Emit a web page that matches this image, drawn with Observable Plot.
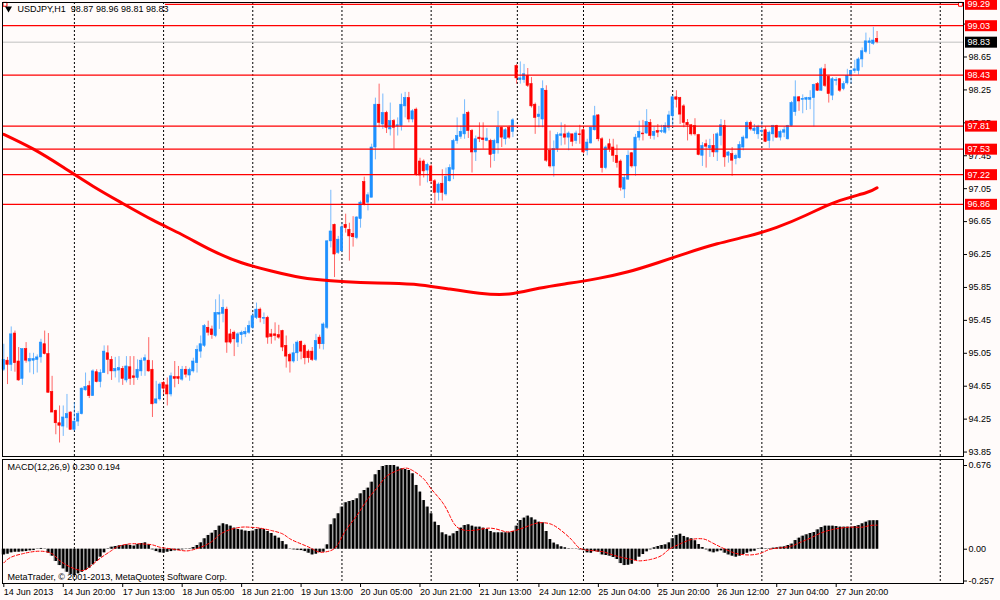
<!DOCTYPE html>
<html><head><meta charset="utf-8">
<script src="https://cdn.jsdelivr.net/npm/d3@7"></script>
<script src="https://cdn.jsdelivr.net/npm/@observablehq/plot@0.6"></script>
<style>
html,body{margin:0;padding:0;background:#FFFBFA;overflow:hidden;}
#chart svg{display:block;}
</style></head><body><div id="chart"></div>
<script>
// ---- USDJPY H1 candles (bar index 0..235) ----
const opens = [94.85,94.96,94.91,95.29,94.95,94.74,95.10,94.95,94.96,94.97,95.00,95.16,95.04,94.58,94.35,94.20,94.16,94.26,94.33,94.12,94.22,94.31,94.60,94.65,94.53,94.82,94.70,94.81,95.05,94.97,94.83,94.84,94.86,94.72,94.88,94.77,94.75,94.83,94.96,94.96,94.85,94.44,94.49,94.69,94.66,94.55,94.76,94.76,94.73,94.85,94.78,94.83,94.93,95.07,95.14,95.36,95.34,95.26,95.52,95.53,95.58,95.28,95.30,95.18,95.27,95.28,95.30,95.36,95.48,95.58,95.47,95.48,95.28,95.28,95.27,95.32,95.14,95.03,94.95,95.05,95.19,95.14,95.07,95.07,94.97,95.24,95.16,95.36,96.41,96.61,96.27,96.29,96.61,96.55,96.50,96.45,96.68,97.13,96.88,96.94,97.55,98.07,97.83,97.97,97.77,97.87,97.81,97.81,98.05,98.15,97.89,98.01,97.38,97.38,97.27,97.32,97.14,97.00,97.11,96.98,97.14,97.28,97.63,97.68,97.71,97.97,97.75,97.49,97.67,97.66,97.63,97.63,97.47,97.60,97.79,97.65,97.79,97.74,98.54,98.37,98.37,98.42,98.32,98.07,97.92,97.89,98.24,97.51,97.32,97.53,97.69,97.71,97.67,97.71,97.63,97.71,97.76,97.51,97.60,97.76,97.94,97.65,97.30,97.59,97.55,97.45,97.38,97.04,97.16,97.48,97.32,97.67,97.72,97.72,97.85,97.69,97.75,97.74,97.73,97.79,97.93,98.16,98.15,98.05,97.85,97.82,97.81,97.70,97.45,97.59,97.54,97.57,97.49,97.69,97.81,97.45,97.47,97.41,97.42,97.55,97.66,97.85,97.75,97.71,97.74,97.76,97.63,97.71,97.81,97.67,97.73,97.65,97.81,97.98,98.16,98.13,98.13,98.13,98.15,98.32,98.24,98.50,98.41,98.18,98.36,98.38,98.26,98.33,98.42,98.48,98.48,98.62,98.71,98.82,98.81,98.87];
const highs = [95.16,95.00,95.37,95.32,95.12,95.10,95.18,95.05,95.05,95.03,95.22,95.32,95.29,94.77,94.36,94.41,94.41,94.55,94.34,94.45,94.34,94.63,94.81,94.71,94.85,94.85,94.85,95.14,95.14,95.01,95.00,95.01,94.89,95.01,95.01,95.01,94.97,94.99,95.03,95.24,94.96,94.71,94.69,94.71,94.75,94.81,94.95,94.89,94.89,94.89,94.87,94.99,95.14,95.26,95.40,95.44,95.38,95.70,95.76,95.70,95.61,95.34,95.32,95.30,95.32,95.36,95.44,95.54,95.66,95.60,95.54,95.50,95.34,95.42,95.39,95.33,95.26,95.05,95.16,95.20,95.20,95.16,95.09,95.12,95.28,95.27,95.42,96.42,97.03,96.62,96.47,96.63,96.74,96.63,96.71,96.71,96.90,97.19,97.00,97.59,98.15,98.32,98.20,97.99,98.09,97.89,97.91,98.20,98.22,98.22,98.01,98.03,97.42,97.40,97.36,97.34,97.16,97.12,97.28,97.30,97.34,97.65,97.91,97.81,98.13,97.99,97.77,97.69,97.85,97.85,97.78,97.65,97.65,97.99,97.80,97.78,97.81,97.90,98.56,98.59,98.56,98.51,98.40,98.09,98.05,98.36,98.30,97.75,97.63,97.73,97.85,97.83,97.74,97.71,97.75,97.82,97.79,97.65,97.80,98.05,97.95,97.67,97.57,97.65,97.65,97.58,97.40,97.22,97.51,97.49,97.71,97.87,97.88,98.01,97.89,97.80,97.83,97.82,97.85,97.99,98.18,98.24,98.16,98.07,97.89,97.83,97.90,97.71,97.61,97.64,97.65,97.71,97.73,97.89,97.88,97.50,97.55,97.47,97.62,97.69,97.87,97.87,97.83,97.82,97.87,97.80,97.75,97.82,97.82,97.76,97.80,97.82,98.11,98.36,98.17,98.19,98.16,98.24,98.32,98.34,98.52,98.56,98.42,98.40,98.40,98.39,98.35,98.50,98.49,98.61,98.64,98.76,98.94,98.88,99.01,98.96];
const lows = [94.83,94.67,94.83,94.82,94.71,94.66,94.93,94.81,94.79,94.81,94.93,95.03,94.57,94.33,94.06,93.96,94.04,94.14,94.12,94.10,94.16,94.30,94.59,94.50,94.53,94.69,94.63,94.81,94.79,94.72,94.75,94.69,94.66,94.69,94.66,94.66,94.72,94.77,94.77,94.82,94.27,94.43,94.47,94.55,94.41,94.52,94.63,94.67,94.71,94.75,94.71,94.81,94.81,94.99,95.12,95.26,95.22,95.24,95.34,95.42,95.05,95.16,95.01,95.12,95.16,95.24,95.28,95.34,95.46,95.42,95.40,95.16,95.16,95.20,95.22,95.07,94.87,94.81,94.93,94.95,94.97,94.91,94.93,94.95,94.95,95.10,95.09,95.34,96.33,95.97,96.25,96.27,96.51,96.17,96.34,96.43,96.57,96.84,96.78,96.94,97.40,97.79,97.77,97.72,97.69,97.53,97.69,97.75,97.91,97.85,97.85,97.20,97.08,97.18,97.12,97.10,96.86,96.90,96.90,96.96,97.13,97.16,97.59,97.65,97.65,97.66,97.24,97.38,97.61,97.53,97.62,97.30,97.38,97.47,97.55,97.58,97.65,97.67,98.32,98.32,98.33,98.28,98.03,97.71,97.79,97.79,97.37,97.30,97.19,97.49,97.57,97.58,97.51,97.56,97.59,97.59,97.47,97.45,97.59,97.75,97.62,97.24,97.28,97.49,97.37,97.30,97.02,96.93,97.15,97.30,97.20,97.63,97.63,97.71,97.65,97.64,97.67,97.72,97.71,97.75,97.79,98.03,97.83,97.79,97.63,97.69,97.69,97.45,97.32,97.30,97.43,97.43,97.38,97.57,97.31,97.36,97.20,97.34,97.41,97.51,97.65,97.75,97.71,97.65,97.71,97.61,97.54,97.62,97.66,97.63,97.67,97.64,97.80,97.93,97.99,97.96,98.00,98.01,97.80,98.23,98.23,98.28,98.09,98.12,98.30,98.22,98.24,98.31,98.32,98.45,98.43,98.52,98.69,98.68,98.79,98.81];
const closes = [94.97,94.91,95.28,94.93,94.72,95.10,94.96,94.98,94.98,95.00,95.18,95.04,94.57,94.33,94.20,94.17,94.27,94.31,94.12,94.22,94.31,94.62,94.64,94.53,94.83,94.70,94.81,95.07,94.97,94.83,94.86,94.87,94.74,94.89,94.74,94.75,94.85,94.96,94.99,94.83,94.43,94.49,94.67,94.62,94.55,94.77,94.74,94.74,94.85,94.79,94.85,94.95,95.09,95.16,95.38,95.30,95.27,95.54,95.54,95.60,95.18,95.18,95.22,95.28,95.30,95.31,95.38,95.50,95.58,95.48,95.48,95.24,95.25,95.26,95.24,95.12,95.01,94.95,95.05,95.18,95.07,94.99,94.99,94.97,95.20,95.16,95.40,96.41,96.53,96.25,96.43,96.58,96.57,96.47,96.46,96.70,96.88,96.85,96.97,97.55,98.07,97.85,97.97,97.79,97.87,97.79,97.82,98.07,98.15,97.89,97.99,97.22,97.21,97.26,97.34,97.14,97.00,97.10,97.00,97.19,97.30,97.63,97.69,97.74,97.95,97.75,97.49,97.65,97.65,97.64,97.66,97.46,97.63,97.79,97.67,97.76,97.67,97.88,98.39,98.39,98.44,98.30,98.05,97.91,97.95,98.26,97.39,97.32,97.53,97.70,97.71,97.67,97.72,97.62,97.72,97.70,97.49,97.61,97.79,97.93,97.65,97.30,97.55,97.53,97.45,97.36,97.06,97.18,97.45,97.32,97.67,97.74,97.71,97.86,97.69,97.74,97.73,97.75,97.81,97.94,98.16,98.13,97.95,97.85,97.82,97.71,97.71,97.46,97.57,97.56,97.57,97.49,97.71,97.82,97.43,97.49,97.39,97.45,97.58,97.67,97.85,97.77,97.78,97.80,97.75,97.62,97.73,97.81,97.67,97.74,97.76,97.81,98.09,98.16,98.11,98.14,98.15,98.15,98.31,98.24,98.50,98.30,98.20,98.38,98.37,98.24,98.32,98.42,98.48,98.50,98.62,98.72,98.84,98.84,98.85,98.83];

// ---- 200-period moving average, read at selected bars ----
const maBars = [0,8,16,24,32,40,48,56,64,72,80,88,96,104,112,120,128,136,144,152,160,168,176,184,192,200,208,216,224,232,235];
const maVals = [97.71,97.53,97.31,97.08,96.87,96.67,96.49,96.30,96.15,96.05,95.97,95.93,95.91,95.90,95.88,95.83,95.78,95.77,95.84,95.90,95.96,96.04,96.15,96.27,96.38,96.47,96.58,96.73,96.89,97.00,97.06];

// ---- MACD(12,26,9) main values per bar ----
const macdVals = [-0.046,-0.040,-0.029,-0.024,-0.024,-0.021,-0.019,-0.013,-0.011,-0.002,0.006,-0.002,
-0.032,-0.056,-0.099,-0.132,-0.159,-0.186,-0.204,-0.212,-0.199,-0.186,-0.172,-0.153,-0.126,-0.099,-0.064,-0.029,
0.003,0.016,0.022,0.027,0.030,0.035,0.030,0.025,0.038,0.046,0.051,0.035,
-0.005,-0.019,-0.029,-0.032,-0.024,-0.019,-0.013,-0.011,-0.005,-0.002,0.003,
0.014,0.030,0.051,0.084,0.111,0.129,0.151,0.186,0.205,0.197,0.186,0.170,0.159,0.154,0.146,0.143,
0.146,0.159,0.164,0.159,0.143,0.127,0.105,0.089,0.062,0.035,-0.002,-0.005,-0.008,-0.011,-0.019,-0.032,-0.046,-0.040,-0.027,-0.024,
0.035,0.197,0.245,0.286,0.340,0.375,0.385,0.393,0.407,0.447,0.474,0.493,0.541,0.601,0.636,0.668,0.676,0.676,0.676,0.663,0.649,0.644,0.636,0.609,
0.515,0.461,0.393,0.340,0.286,0.218,0.191,0.132,0.116,0.105,0.124,0.143,0.170,0.191,0.197,0.186,0.178,0.178,0.170,0.159,0.143,0.132,0.132,
0.132,0.132,0.132,0.143,0.186,0.232,0.251,0.267,0.253,0.235,0.218,0.213,0.143,0.078,0.049,0.035,0.019,0.011,0.003,-0.002,-0.002,-0.005,-0.011,-0.029,-0.032,-0.019,-0.024,-0.046,-0.051,-0.056,-0.067,-0.083,-0.116,-0.132,-0.129,-0.121,-0.091,-0.064,-0.043,-0.021,-0.005,0.011,0.022,0.030,0.035,0.051,0.084,0.111,0.121,
0.103,0.092,0.084,0.068,0.038,0.014,-0.005,-0.021,-0.029,-0.021,-0.013,-0.032,-0.046,-0.056,-0.064,-0.056,-0.043,-0.032,-0.021,-0.016,0.003,0.008,0.003,0.003,0.008,0.011,0.016,0.019,0.030,0.041,0.070,0.089,0.105,0.116,0.127,0.135,0.156,0.175,0.186,0.186,0.186,0.183,0.178,0.178,0.178,0.178,0.183,0.191,0.205,0.218,0.229,0.230,0.230];

// ---- MACD signal line, read at selected bars ----
const sigBars = [0,2,5,7,10,13,15,18,21,23,26,29,31,34,37,40,42,45,48,50,53,56,58,61,64,66,69,72,75,77,80,83,85,88,90,92,95,98,101,103,106,108,110,113,115,118,120,122,125,128,131,134,136,139,142,144,147,150,153,155,158,161,163,166,169,171,174,177,179,182,185,188,190,193,196,198,201,204,206,209,212,214,217,220,223,225,228,231,233,235];
const sigVals = [-0.110,-0.064,-0.037,-0.024,-0.016,-0.037,-0.091,-0.145,-0.172,-0.145,-0.072,-0.011,0.025,0.043,0.043,0.035,0.016,0.003,-0.011,-0.011,0.016,0.062,0.116,0.159,0.178,0.178,0.170,0.151,0.124,0.084,0.043,0.003,-0.024,-0.011,0.043,0.151,0.272,0.407,0.515,0.590,0.636,0.655,0.636,0.568,0.488,0.380,0.272,0.178,0.151,0.159,0.170,0.150,0.140,0.164,0.197,0.213,0.205,0.151,0.070,0.008,-0.011,-0.019,-0.037,-0.064,-0.083,-0.094,-0.083,-0.051,-0.002,0.043,0.078,0.084,0.062,0.016,-0.024,-0.040,-0.046,-0.029,-0.002,0.011,0.025,0.051,0.089,0.132,0.159,0.170,0.178,0.178,0.191,0.194];

// ---- horizontal price levels and labels ----
const levelPrices = [99.29, 99.03, 98.43, 97.81, 97.53, 97.22, 96.86];
const levelStartBar = [43.5, null, null, null, null, null, null];
const bidPrice = 98.83;
const priceTicks = [93.85,94.25,94.65,95.05,95.45,95.85,96.25,96.65,97.05,97.45,97.85,98.25,98.65,99.05];
const macdTicks = [0.676, 0, -0.257];
const macdTickLabels = ["0.676", "0.00", "-0.257"];
const gridBars = [19, 43, 67, 91, 115, 138.2, 156, 180, 204, 228, 252];
const dateBars = [0,16,32,48,64,80,96,112,128,144,160,176,192,208,224];
const dateLabels = ["14 Jun 2013","14 Jun 20:00","17 Jun 13:00","18 Jun 05:00","18 Jun 21:00","19 Jun 13:00","20 Jun 05:00","20 Jun 21:00","21 Jun 13:00","24 Jun 12:00","25 Jun 04:00","25 Jun 20:00","26 Jun 12:00","27 Jun 04:00","27 Jun 20:00"];
const headerText = "USDJPY,H1  98.87 98.96 98.81 98.83";
const macdHeader = "MACD(12,26,9) 0.230 0.194";
const copyright = "MetaTrader, \u00A9 2001-2013, MetaQuotes Software Corp.";

// ---- layout ----
const BG = "#FFFBFA";
const FONT = "'Liberation Sans', Arial, sans-serif";
const BLUE = "#1E90FF", RED = "#FF0000";
const W = 1000, ML = 2, MR = 37;
const X0 = -0.35, X1 = 258.26;
const pxPerBar = (W - ML - MR) / (X1 - X0);
const px = p => p / pxPerBar;
const baseStyle = {background: BG, fontFamily: FONT, fontSize: "9px", color: "black", overflow: "visible"};

const candles = opens.map((o, i) => ({i, o, h: highs[i], l: lows[i], c: closes[i], col: closes[i] >= o ? BLUE : RED}));
const ma = maBars.map((b, i) => ({b, v: maVals[i]}));
const macd = macdVals.map((v, i) => ({i, v}));
const sig = sigBars.map((b, i) => ({b, v: sigVals[i]}));
const levels = levelPrices.map((p, i) => ({p, start: levelStartBar[i] ?? X0}));
const boxes = levelPrices.map(p => ({p, fill: RED})).concat([{p: bidPrice, fill: "black"}]);

const pricePlot = Plot.plot({
  width: W, height: 457, marginLeft: ML, marginRight: MR, marginTop: 2, marginBottom: 1,
  style: baseStyle,
  x: {domain: [X0, X1], axis: null},
  y: {domain: [93.796, 99.312]},
  marks: [
    Plot.ruleX(gridBars, {stroke: "black", strokeDasharray: "2,2", strokeWidth: 1}),
    Plot.ruleY([bidPrice], {stroke: "#C0C0C0", strokeWidth: 1}),
    Plot.ruleX(candles, {x: "i", y1: "l", y2: "h", stroke: "col", strokeOpacity: 0.6, strokeWidth: 1}),
    Plot.rect(candles, {x1: d => d.i - 0.32, x2: d => d.i + 0.32, y1: "o", y2: "c", fill: "col", stroke: "col", strokeWidth: 0.6}),
    Plot.line(ma, {x: "b", y: "v", stroke: RED, strokeWidth: 3, curve: "natural"}),
    Plot.ruleY(levels, {y: "p", x1: "start", x2: X1, stroke: RED, strokeWidth: 1.2}),
    Plot.dot([levelPrices[0]], {x: X0 + px(2.5), y: d => d, symbol: "square", r: 2.2, stroke: RED, fill: "white", strokeWidth: 1}),
    Plot.dot([levelPrices[0]], {x: X1 - px(3), y: d => d, symbol: "square", r: 2.2, stroke: RED, fill: "white", strokeWidth: 1}),
    Plot.axisY({anchor: "right", ticks: priceTicks, tickSize: 3, tickPadding: 2, tickFormat: d => d.toFixed(2), label: null}),
    Plot.ruleY(boxes, {y: "p", x1: X1 + px(2), x2: X1 + px(34), stroke: "fill", strokeWidth: 11}),
    Plot.text(boxes, {y: "p", x: X1, dx: 4, text: d => d.p.toFixed(2), fill: "white", textAnchor: "start"}),
    Plot.frame({stroke: "black"}),
    Plot.dot([0], {frameAnchor: "top-left", dx: 6, dy: 6, symbol: "triangle", rotate: 180, r: 2.6, fill: "black", stroke: "none"}),
    Plot.text([headerText], {frameAnchor: "top-left", dx: 15, dy: 7, lineAnchor: "middle", textAnchor: "start", text: d => d})
  ]
});

const macdPlot = Plot.plot({
  width: W, height: 143, marginLeft: ML, marginRight: MR, marginTop: 2, marginBottom: 17,
  style: baseStyle,
  x: {domain: [X0, X1]},
  y: {domain: [-0.277, 0.7246]},
  marks: [
    Plot.ruleX(gridBars, {stroke: "black", strokeDasharray: "2,2", strokeWidth: 1}),
    Plot.rect(macd, {x1: d => d.i - 0.5, x2: d => d.i + 0.5, y1: 0, y2: "v", fill: "#9a9a9a"}),
    Plot.ruleX(macd, {x: "i", y1: 0, y2: "v", stroke: "black", strokeWidth: 2.2}),
    Plot.line(sig, {x: "b", y: "v", stroke: RED, strokeWidth: 1, strokeDasharray: "3,2", curve: "natural"}),
    Plot.axisY({anchor: "right", ticks: macdTicks, tickSize: 3, tickPadding: 2, tickFormat: d => macdTickLabels[macdTicks.indexOf(d)], label: null}),
    Plot.axisX({anchor: "bottom", ticks: dateBars, tickSize: 4, tickPadding: 1, textAnchor: "start", tickFormat: d => dateLabels[dateBars.indexOf(d)], label: null}),
    Plot.frame({stroke: "black"}),
    Plot.text([macdHeader], {frameAnchor: "top-left", dx: 5, dy: 8, lineAnchor: "middle", textAnchor: "start", text: d => d}),
    Plot.text([copyright], {frameAnchor: "bottom-left", dx: 5, dy: -6, lineAnchor: "middle", textAnchor: "start", text: d => d})
  ]
});

const root = document.getElementById("chart");
root.appendChild(pricePlot);
root.appendChild(macdPlot);
</script>
</body></html>
